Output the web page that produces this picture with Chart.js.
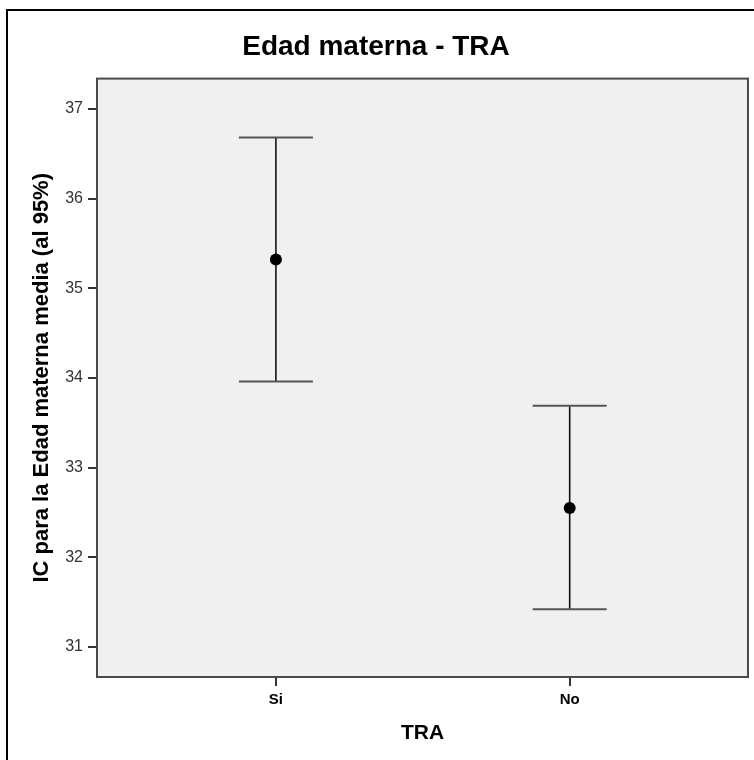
<!DOCTYPE html>
<html>
<head>
<meta charset="utf-8">
<script src="https://cdn.jsdelivr.net/npm/chart.js@4.4.1/dist/chart.umd.min.js"></script>
<style>
html, body { margin: 0; padding: 0; background: #fff; overflow: hidden; }
#wrap { position: relative; width: 754px; height: 760px; }
</style>
</head>
<body>
<div id="wrap"><canvas id="ciChart" width="754" height="760"></canvas></div>
<script>
// 95% CI of maternal age by TRA group
const categories = ['Si', 'No'];
const means = [35.32, 32.55];
const lowerCI = [33.96, 31.42];
const upperCI = [36.68, 33.69];
const yTicks = [31, 32, 33, 34, 35, 36, 37];

Chart.defaults.font.family = "'Liberation Sans', Arial, sans-serif";

// white page, outer frame and grey plot background
const framePlugin = {
    id: 'frame',
    beforeDraw(chart) {
        const ctx = chart.ctx;
        const a = chart.chartArea;
        ctx.save();
        ctx.fillStyle = '#fff';
        ctx.fillRect(0, 0, chart.width, chart.height);
        ctx.strokeStyle = '#000';
        ctx.lineWidth = 2;
        ctx.strokeRect(7, 10, chart.width + 20, chart.height + 20);
        ctx.fillStyle = '#f0f0f0';
        ctx.fillRect(a.left, a.top, a.right - a.left, a.bottom - a.top);
        ctx.restore();
    },
    beforeDatasetsDraw(chart) {
        const ctx = chart.ctx;
        const a = chart.chartArea;
        const x = chart.scales.x;
        const y = chart.scales.y;
        ctx.save();
        ctx.strokeStyle = '#4a4a4a';
        ctx.lineWidth = 2;
        ctx.strokeRect(a.left, a.top, a.right - a.left, a.bottom - a.top);

        // error bars
        const capHalf = 37;
        categories.forEach((c, i) => {
            const px = x.getPixelForValue(i);
            const top = y.getPixelForValue(upperCI[i]);
            const bot = y.getPixelForValue(lowerCI[i]);
            ctx.strokeStyle = '#111';
            ctx.lineWidth = 1.6;
            ctx.beginPath();
            ctx.moveTo(px, top);
            ctx.lineTo(px, bot);
            ctx.stroke();
            ctx.strokeStyle = '#555';
            ctx.lineWidth = 2;
            ctx.beginPath();
            ctx.moveTo(px - capHalf, top);
            ctx.lineTo(px + capHalf, top);
            ctx.moveTo(px - capHalf, bot);
            ctx.lineTo(px + capHalf, bot);
            ctx.stroke();
        });
        ctx.restore();
    }
};

const ctx = document.getElementById('ciChart').getContext('2d');
new Chart(ctx, {
    type: 'scatter',
    data: {
        datasets: [{
            label: 'Media',
            data: categories.map((c, i) => ({ x: i, y: means[i] })),
            backgroundColor: '#000',
            borderColor: '#000',
            borderWidth: 0,
            pointRadius: 6,
            pointHoverRadius: 6
        }]
    },
    options: {
        responsive: false,
        animation: false,
        devicePixelRatio: 1,
        events: [],
        layout: { padding: { top: 0, right: 2, left: 0, bottom: 0 } },
        plugins: {
            legend: { display: false },
            tooltip: { enabled: false },
            title: {
                display: true,
                text: 'Edad materna - TRA',
                color: '#000',
                font: { size: 28, weight: 'bold' },
                padding: { top: 30, bottom: 15 }
            }
        },
        scales: {
            x: {
                type: 'linear',
                min: -0.609,
                max: 1.607,
                afterFit: s => { s.height = 83; },
                afterBuildTicks: s => { s.ticks = categories.map((c, i) => ({ value: i })); },
                border: { display: false },
                grid: { drawOnChartArea: false, tickLength: 9, color: '#333', lineWidth: 2 },
                ticks: {
                    autoSkip: false,
                    maxRotation: 0,
                    padding: 5,
                    color: '#000',
                    font: { size: 15, weight: 'bold' },
                    callback: (v, i) => categories[i]
                },
                title: {
                    display: true,
                    text: 'TRA',
                    color: '#000',
                    font: { size: 21, weight: 'bold' },
                    padding: { top: 0, bottom: 14 }
                }
            },
            y: {
                min: 30.664,
                max: 37.338,
                afterFit: s => { s.width = 97; },
                afterBuildTicks: s => { s.ticks = yTicks.map(v => ({ value: v })); },
                border: { display: false },
                grid: { drawOnChartArea: false, tickLength: 9, color: '#333', lineWidth: 2 },
                ticks: {
                    padding: 5,
                    color: '#333',
                    font: { size: 16 }
                },
                title: {
                    display: true,
                    text: 'IC para la Edad materna media (al 95%)',
                    color: '#000',
                    font: { size: 22, weight: 'bold' },
                    padding: { top: 29, bottom: 0 }
                }
            }
        }
    },
    plugins: [framePlugin]
});
</script>
</body>
</html>
